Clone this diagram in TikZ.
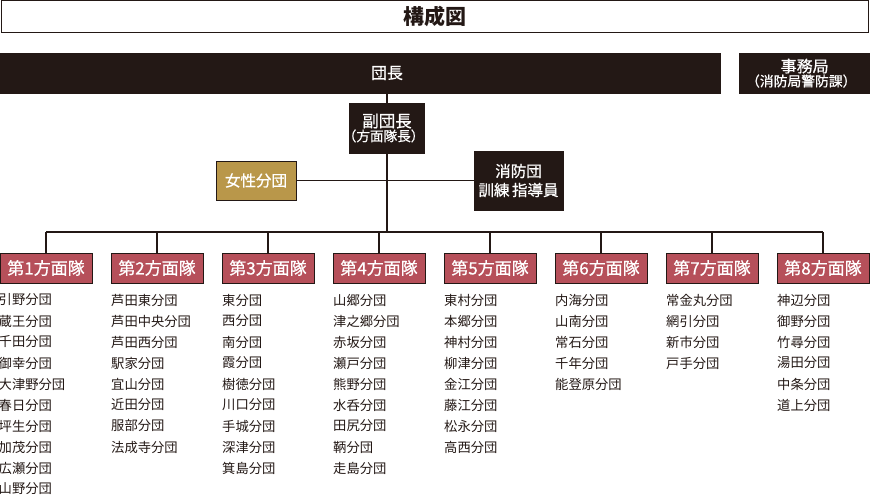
\documentclass[tikz,border=0pt]{standalone}
\usepackage{fontspec}
\setmainfont{Noto Sans CJK JP}
\newfontfamily\jpm[FakeBold=0.7]{Noto Sans CJK JP}
\definecolor{dk}{HTML}{231815}
\definecolor{rd}{HTML}{B6505A}
\definecolor{gd}{HTML}{B9974A}
\newcommand{\fwp}[1]{\hspace{-0.5em}（#1）\hspace{-0.5em}}
\begin{document}
\begin{tikzpicture}[x=1pt,y=-1pt,
  darkbox/.style={fill=dk, draw=dk, text=white, inner sep=0pt, align=center},
  hq/.style={fill=rd, draw=dk, line width=0.9pt, text=white, minimum width=92pt, minimum height=30pt, inner sep=0pt, font=\jpm\fontsize{17}{17}\selectfont},
  item/.style={anchor=west, inner sep=0pt, text=dk, font=\fontsize{13.3}{13.3}\selectfont},
  conn/.style={draw=dk, line width=1.8pt}]
\useasboundingbox (0,0) rectangle (870,495);
% title
\node[draw=dk, line width=1pt, minimum width=867pt, minimum height=32pt, inner sep=0pt, text=dk,
      font=\fontsize{21}{21}\selectfont\bfseries] (title) at (434.5,16.5) {構成図};
% chief bar
\node[darkbox, minimum width=720pt, minimum height=40pt, anchor=north west] (chief) at (0,53) {};
\node[text=white, inner sep=0pt, font=\jpm\fontsize{16}{16}\selectfont] (chieft) at (387,73) {団長};
% office
\node[darkbox, minimum width=131pt, minimum height=40pt, anchor=north west, font=\jpm] (office) at (739,53)
  {\fontsize{16}{20}\selectfont 事務局\\\fontsize{13.8}{16}\selectfont \fwp{消防局警防課}};
% vice
\node[darkbox, minimum width=70pt, minimum height=50pt, font=\jpm] (vice) at (387,128)
  {\fontsize{16.5}{18}\selectfont 副団長\\\fontsize{13.6}{16}\selectfont \fwp{方面隊長}};
% women
\node[fill=gd, draw=dk, line width=0.9pt, text=white, minimum width=80pt, minimum height=39pt, inner sep=0pt,
      font=\jpm\fontsize{15.5}{15.5}\selectfont] (women) at (256,180.5) {女性分団};
% instructor
\node[darkbox, minimum width=89pt, minimum height=59pt, font=\jpm\fontsize{15.5}{19}\selectfont] (instr) at (518.5,180.5)
  {消防団\\訓練\,指導員};
% headquarters
\foreach \i in {1,...,8} {
  \node[hq] (h\i) at ({46+111*(\i-1)},268) {第\i 方面隊};
}
\coordinate (bus) at (387,232);
% connectors
\draw[conn] (vice.north |- chief.south) -- (vice.north);
\draw[conn] (women.east) -- (instr.west);
\draw[conn] (vice.south) -- (vice.south |- bus);
\draw[conn] (h1.north |- bus) -- (h8.north |- bus);
\foreach \i in {1,...,8} {
  \draw[conn] (h\i.north |- bus) -- (h\i.north);
}
% lists
\foreach \col/\items in {
  1/{引野分団,蔵王分団,千田分団,御幸分団,大津野分団,春日分団,坪生分団,加茂分団,広瀬分団,山野分団},
  2/{芦田東分団,芦田中央分団,芦田西分団,駅家分団,宜山分団,近田分団,服部分団,法成寺分団},
  3/{東分団,西分団,南分団,霞分団,樹徳分団,川口分団,手城分団,深津分団,箕島分団},
  4/{山郷分団,津之郷分団,赤坂分団,瀬戸分団,熊野分団,水呑分団,田尻分団,鞆分団,走島分団},
  5/{東村分団,本郷分団,神村分団,柳津分団,金江分団,藤江分団,松永分団,高西分団},
  6/{内海分団,山南分団,常石分団,千年分団,能登原分団},
  7/{常金丸分団,網引分団,新市分団,戸手分団},
  8/{神辺分団,御野分団,竹尋分団,湯田分団,中条分団,道上分団}} {
  \foreach \nm [count=\r] in \items {
    \node[item] (c\col r\r) at ({111*(\col-1)-ifthenelse(\col==1,1.5,0)},{300+21*(\r-1)}) {\nm};
  }
}
\end{tikzpicture}
\end{document}
